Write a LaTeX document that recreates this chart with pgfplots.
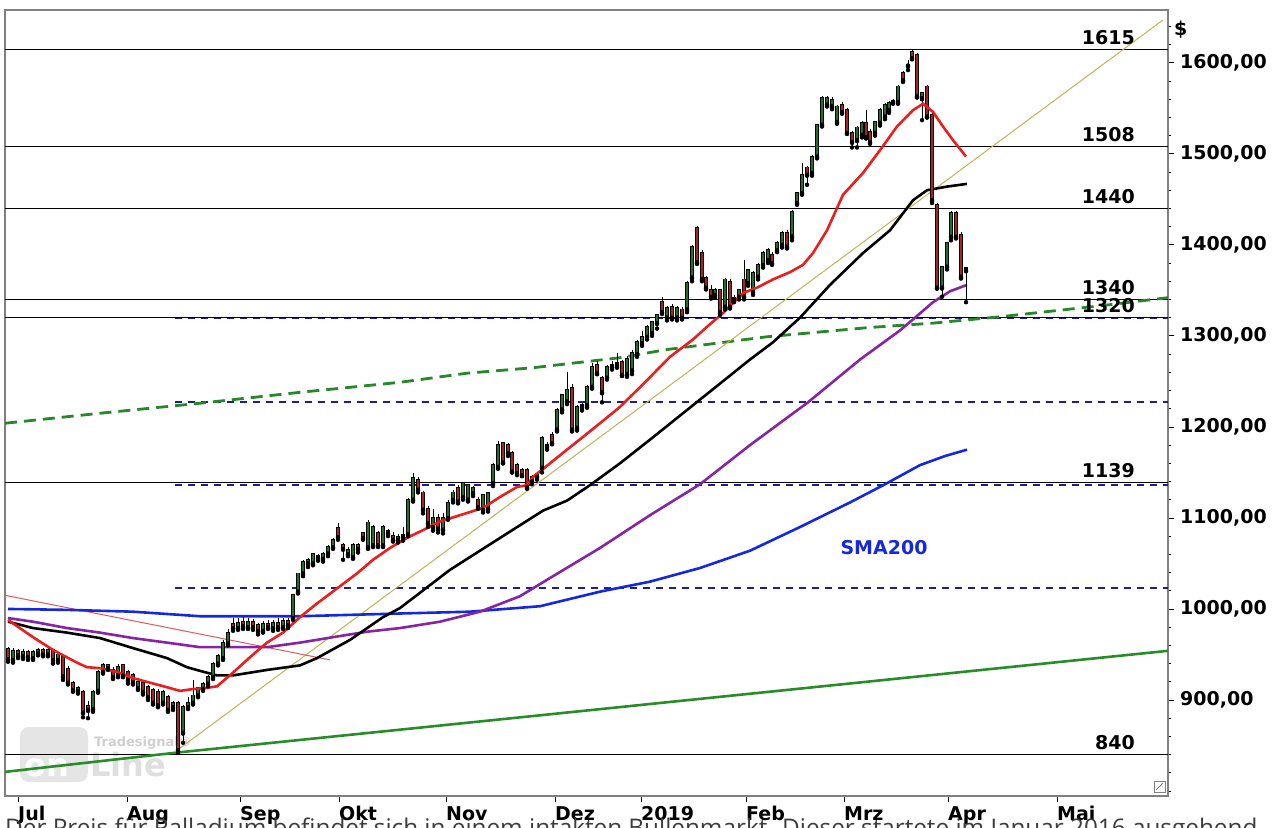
\documentclass[border=0pt]{standalone}
\usepackage{fontspec}
\usepackage{pgfplots}
\usepackage{pgfplotstable}
\pgfplotsset{compat=1.18}
\setmainfont{DejaVu Sans}
\newfontfamily\capfont{Open Sans}
\newcommand\lab{\fontsize{19}{22}\selectfont\bfseries}
\definecolor{framegray}{RGB}{128,128,128}
\definecolor{upc}{RGB}{35,110,40}
\definecolor{dnc}{RGB}{170,35,35}
\definecolor{smared}{RGB}{235,30,30}
\definecolor{smapur}{RGB}{135,35,165}
\definecolor{smablue}{RGB}{20,40,225}
\definecolor{gdash}{RGB}{40,135,40}
\definecolor{gsolid}{RGB}{40,140,40}
\definecolor{olive}{RGB}{190,180,90}
\definecolor{trendred}{RGB}{220,90,90}
\definecolor{fibo}{RGB}{30,30,140}
\definecolor{capgray}{RGB}{60,60,60}

% candles: x open high low close
\pgfplotstableread{
x o h l c
13 944 957 941 954
23 948 956 945 953
33 946 955 944 953
38 951 957 949 955
48 950 958 948 955
58 944 953 941 950
78 910 915 907 913
93 890 911 887 909
98 910 933 908 931
103 931 941 929 938
118 927 939 925 936
138 913 924 911 920
163 897 911 895 909
173 892 899 889 897
183 864 895 853 892
188 892 903 890 897
193 897 922 895 905
198 905 914 903 913
203 912 920 910 918
208 918 927 915 925
213 925 942 923 940
218 940 950 938 948
223 946 966 944 963
228 962 978 960 974
238 979 990 977 985
248 980 990 978 986
263 976 987 974 984
273 979 988 976 985
283 980 990 978 987
293 990 1016 988 1015
298 1019 1040 1017 1039
303 1039 1054 1036 1052
308 1050 1056 1046 1054
313 1050 1062 1048 1060
323 1055 1063 1052 1060
328 1061 1070 1058 1068
333 1068 1078 1066 1076
348 1060 1068 1058 1065
353 1057 1072 1055 1070
368 1068 1098 1066 1095
373 1070 1092 1068 1090
383 1070 1092 1068 1090
398 1076 1082 1073 1079
403 1079 1090 1075 1081
408 1082 1122 1080 1120
413 1120 1149 1118 1144
433 1090 1110 1086 1100
443 1087 1105 1083 1100
448 1100 1120 1098 1116
453 1120 1131 1117 1128
463 1123 1140 1120 1138
468 1120 1136 1118 1136
473 1127 1135 1124 1133
483 1109 1126 1106 1125
488 1110 1129 1107 1127
493 1138 1160 1135 1158
498 1156 1185 1154 1180
532 1140 1147 1137 1145
537 1145 1150 1142 1148
542 1155 1190 1150 1188
557 1197 1221 1195 1219
562 1219 1236 1216 1235
567 1228 1260 1225 1241
577 1199 1224 1196 1222
582 1222 1226 1218 1224
587 1224 1246 1221 1244
592 1244 1270 1242 1266
607 1254 1268 1252 1266
612 1266 1272 1263 1268
617 1268 1281 1265 1270
627 1258 1278 1255 1275
632 1262 1285 1258 1281
637 1280 1296 1277 1293
642 1292 1305 1289 1299
647 1299 1312 1296 1310
652 1303 1316 1300 1315
657 1314 1324 1308 1323
667 1320 1333 1317 1331
677 1320 1333 1317 1331
687 1329 1360 1326 1358
692 1364 1400 1360 1398
715 1345 1353 1342 1350
725 1332 1364 1329 1362
739 1343 1352 1340 1350
748 1358 1374 1355 1372
753 1348 1371 1345 1369
758 1365 1380 1362 1378
763 1378 1393 1375 1391
768 1383 1396 1380 1394
777 1394 1404 1392 1402
782 1400 1415 1397 1413
792 1409 1438 1405 1436
797 1446 1458 1444 1457
802 1457 1490 1455 1477
812 1479 1499 1476 1497
817 1497 1533 1495 1532
822 1532 1563 1530 1561
827 1554 1563 1552 1561
832 1552 1562 1549 1559
837 1535 1554 1533 1552
857 1515 1531 1507 1529
862 1521 1536 1518 1534
875 1523 1536 1520 1535
880 1534 1550 1531 1548
885 1541 1556 1538 1554
889 1548 1558 1545 1556
898 1557 1576 1555 1574
922 1561 1568 1537 1567
942 1353 1376 1343 1376
947 1376 1402 1373 1402
951 1409 1437 1405 1435
966 1372 1376 1337 1375
}\upcandles

\pgfplotstableread{
x o h l c
8 956 958 942 945
18 954 956 946 949
28 953 955 944 947
43 955 957 948 950
53 955 956 940 944
63 947 950 922 926
68 934 937 917 919
73 919 921 909 911
83 909 911 881 886
88 893 899 880 889
108 938 940 933 935
113 933 936 923 925
123 938 940 925 927
128 931 933 918 922
133 927 930 917 919
143 919 922 906 909
148 914 916 900 903
153 911 913 895 897
158 909 912 892 894
168 903 905 887 889
178 897 899 842 845
233 984 990 976 979
243 986 991 978 981
253 986 989 977 980
258 982 985 972 976
268 984 988 978 980
278 985 990 977 980
288 987 990 979 982
318 1058 1060 1053 1056
338 1089 1094 1076 1079
343 1070 1073 1054 1066
358 1070 1073 1062 1066
363 1083 1085 1076 1078
378 1083 1086 1068 1070
388 1086 1088 1080 1083
393 1080 1084 1074 1076
418 1142 1145 1128 1131
423 1128 1130 1105 1109
428 1110 1113 1090 1094
438 1100 1104 1084 1088
458 1133 1136 1116 1118
478 1120 1123 1110 1112
503 1182 1183 1160 1161
508 1180 1182 1168 1171
512 1171 1173 1150 1151
517 1158 1160 1147 1149
522 1153 1155 1146 1147
527 1153 1155 1132 1134
547 1180 1183 1175 1178
552 1191 1194 1181 1182
572 1243 1247 1195 1197
597 1268 1272 1258 1259
602 1254 1256 1227 1238
622 1271 1274 1256 1257
662 1337 1343 1324 1326
672 1332 1335 1318 1320
682 1329 1332 1318 1320
697 1419 1421 1379 1381
702 1391 1394 1360 1362
706 1364 1366 1351 1353
711 1350 1356 1341 1343
720 1350 1352 1323 1326
730 1359 1362 1330 1332
734 1342 1345 1337 1340
744 1362 1383 1340 1343
772 1389 1392 1378 1380
787 1413 1416 1396 1398
807 1485 1487 1466 1477
842 1554 1557 1544 1546
847 1548 1550 1522 1523
852 1523 1525 1507 1513
866 1534 1548 1517 1518
870 1524 1527 1511 1513
893 1558 1560 1555 1557
903 1589 1591 1579 1581
908 1598 1603 1592 1597
912 1612 1614 1604 1605
917 1609 1611 1562 1563
927 1574 1576 1540 1541
932 1543 1546 1446 1449
937 1444 1446 1352 1353
956 1435 1437 1407 1409
961 1411 1414 1363 1365
}\dncandles

\begin{document}
\begin{tikzpicture}[x=1pt,y=1pt]
% watermark
\fill[gray!20, rounded corners=9pt] (20,-727) rectangle (88,-782);
\node[anchor=base west, inner sep=0, text=white, font=\fontsize{32}{32}\selectfont\bfseries] at (24,-776) {on};
\node[anchor=base west, inner sep=0, text=gray!25, font=\fontsize{32}{32}\selectfont\bfseries] at (90,-776) {Line};
\node[anchor=base west, inner sep=0, text=gray!38, font=\fontsize{13}{13}\selectfont\bfseries] at (94,-746) {Tradesignal®};

\begin{axis}[
  at={(5pt,-796pt)}, anchor=south west,
  scale only axis, width=1163pt, height=786pt,
  xmin=5, xmax=1168, ymin=794.5, ymax=1658,
  axis line style={draw=framegray, line width=1.2pt},
  xtick={18,127,240,339,446,555,641,746,844,948,1057},
  xticklabels={Jul,Aug,Sep,Okt,Nov,Dez,2019,Feb,Mrz,Apr,Mai},
  xtick pos=left, ytick pos=right, yticklabel pos=right,
  tick align=outside,
  major tick length=6pt, minor tick length=3pt,
  tick style={black, line width=0.8pt},
  ytick={900,1000,...,1600},
  minor ytick={800,820,...,1640},
  yticklabel style={font=\lab, anchor=west, inner sep=0pt, xshift=6pt},
  xticklabel style={font=\lab, anchor=base west, inner sep=0pt, yshift=-18pt},
  /pgf/number format/.cd, fixed, fixed zerofill, precision=2, use comma, 1000 sep={}, assume math mode=true,
]
% horizontal levels
\pgfplotsinvokeforeach{1615,1508,1440,1340,1320,1139,840}{
  \addplot[black, line width=1.1pt] coordinates {(5,#1) (1168,#1)};
}
% fibonacci retracements
\pgfplotsinvokeforeach{1023,1136,1227.5,1319}{
  \addplot[fibo, line width=1.4pt, dash pattern=on 7pt off 6pt] coordinates {(175,#1) (1168,#1)};
}
% long dashed green
\addplot[gdash, line width=2.8pt, dash pattern=on 12pt off 7pt] coordinates {
(5,1204) (100,1215) (200,1226) (300,1238) (400,1249) (467,1259) (533,1265) (620,1276) (667,1285) (767,1299) (867,1309) (933,1314) (1000,1321) (1100,1333) (1168,1342)};
% green support line
\addplot[gsolid, line width=2.6pt] coordinates {(5,821) (175,842) (1168,954)};
% olive trend line
\addplot[olive, line width=1pt] coordinates {(175,843) (1163,1647)};
% thin red downtrend line
\addplot[trendred, line width=1pt] coordinates {(5,1015) (330,944)};
% SMA200 blue
\addplot[smablue, line width=2.6pt] coordinates {
(8,1000) (67,999) (133,997) (200,992) (300,992) (400,995) (470,997) (540,1003) (600,1019) (650,1030) (700,1045) (750,1064) (800,1090) (850,1117) (885,1137) (920,1158) (945,1168) (967,1175)};
% purple
\addplot[smapur, line width=2.6pt] coordinates {
(8,990) (33,986) (67,979) (100,974) (133,968) (167,963) (200,958) (267,958) (300,963) (333,969) (367,975) (400,979) (440,986) (480,997) (520,1014) (550,1034) (600,1067) (650,1103) (700,1137) (750,1180) (808,1227) (860,1274) (900,1306) (915,1320) (933,1337) (950,1349) (967,1356)};
% black
\addplot[black, line width=2.6pt] coordinates {
(8,986) (33,979) (67,974) (100,968) (133,957) (167,946) (187,936) (200,932) (217,927) (233,927) (267,933) (300,938) (317,946) (350,966) (383,991) (400,1001) (450,1043) (500,1078) (543,1108) (567,1119) (590,1136) (620,1160) (650,1186) (700,1230) (750,1274) (773,1293) (800,1320) (830,1356) (863,1391) (890,1416) (913,1449) (927,1460) (947,1464) (967,1467)};

% candles: wicks
\addplot[only marks, mark=none, error bars/.cd, y dir=plus, y explicit, error mark=none,
  error bar style={black, line width=0.9pt}]
  table[x=x, y=l, y error plus expr=\thisrow{h}-\thisrow{l}] {\upcandles};
\addplot[only marks, mark=none, error bars/.cd, y dir=plus, y explicit, error mark=none,
  error bar style={black, line width=0.9pt}]
  table[x=x, y=l, y error plus expr=\thisrow{h}-\thisrow{l}] {\dncandles};
% candle bodies
\addplot[only marks, mark=none, error bars/.cd, y dir=plus, y explicit, error mark=none,
  error bar style={black, line width=4.4pt}]
  table[x=x, y expr=\thisrow{o}-1, y error plus expr=\thisrow{c}-\thisrow{o}+2] {\upcandles};
\addplot[only marks, mark=none, error bars/.cd, y dir=plus, y explicit, error mark=none,
  error bar style={upc, line width=2.6pt}]
  table[x=x, y=o, y error plus expr=\thisrow{c}-\thisrow{o}] {\upcandles};
\addplot[only marks, mark=none, error bars/.cd, y dir=plus, y explicit, error mark=none,
  error bar style={black, line width=4.4pt}]
  table[x=x, y expr=\thisrow{c}-1, y error plus expr=\thisrow{o}-\thisrow{c}+2] {\dncandles};
\addplot[only marks, mark=none, error bars/.cd, y dir=plus, y explicit, error mark=none,
  error bar style={dnc, line width=2.6pt}]
  table[x=x, y=c, y error plus expr=\thisrow{o}-\thisrow{c}] {\dncandles};

% red SMA on top
\addplot[smared, line width=2.6pt] coordinates {
(8,988) (33,969) (53,955) (77,941) (87,936) (100,935) (117,931) (133,924) (150,919) (167,914) (180,910) (193,912) (205,913) (217,915) (233,930) (250,947) (267,963) (283,974) (300,991) (317,1006) (340,1025) (357,1039) (373,1054) (390,1067) (407,1078) (420,1085) (440,1096) (460,1103) (483,1111) (500,1123) (517,1134) (527,1136) (533,1145) (550,1160) (567,1175) (583,1189) (600,1204) (620,1222) (645,1249) (670,1277) (693,1296) (707,1310) (723,1325) (743,1347) (757,1353) (773,1362) (790,1370) (803,1378) (813,1391) (827,1416) (843,1455) (863,1479) (880,1504) (897,1530) (913,1548) (923,1555) (933,1546) (943,1530) (953,1515) (966,1497)};

% level labels
\pgfplotsinvokeforeach{1615,1508,1440,1340,1320,1139,840}{
  \node[anchor=base east, inner sep=0pt, font=\lab] at (axis cs:1135,#1) [yshift=5pt] {#1};
}
\node[font=\lab, text=smablue] at (axis cs:884,1067) {SMA200};
\end{axis}

% currency sign
\node[anchor=base west, inner sep=0pt, font=\lab] at (1174,-35) {\$};
% small corner icon
\draw[gray, line width=0.8pt] (1154,-781) rectangle (1165,-792);
\draw[gray, line width=0.8pt] (1156,-790) -- (1163,-783);
% caption (partly cut by the page edge, as in the reference)
\node[anchor=base west, inner sep=0pt, text=capgray, font=\capfont\fontsize{24.3}{24.3}\selectfont] at (5,-836) {Der Preis für Palladium befindet sich in einem intakten Bullenmarkt. Dieser startete im Januar 2016 ausgehend};

\pgfresetboundingbox
\useasboundingbox (0,0) rectangle (1281,-827);
\end{tikzpicture}
\end{document}
